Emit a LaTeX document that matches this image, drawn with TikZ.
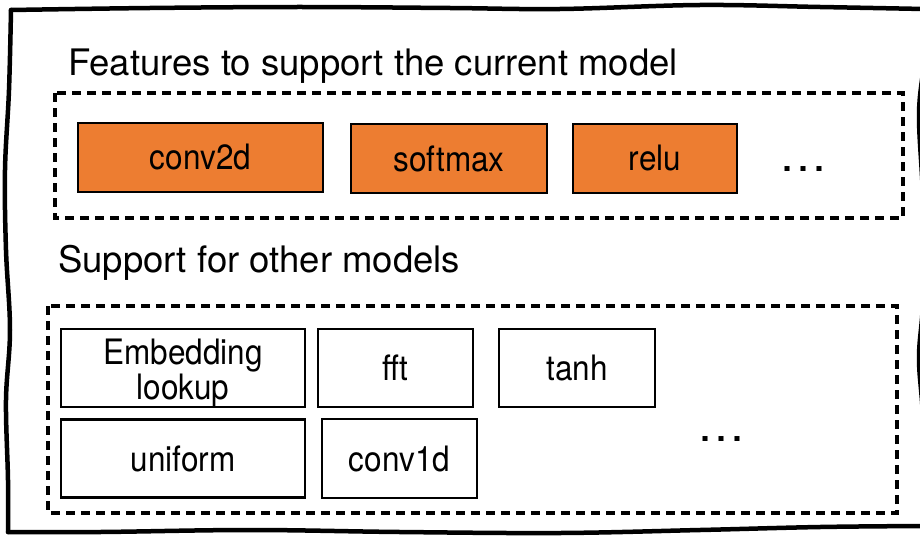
\documentclass[tikz,border=0pt]{standalone}
\usepackage{fontspec}
\setmainfont{TeX Gyre Heros}
\newfontfamily\boxfont[FakeStretch=0.9]{TeX Gyre Heros}
\definecolor{boxorange}{RGB}{237,125,49}
\begin{document}
\begin{tikzpicture}[x=1pt,y=-1pt,
  sketch/.style={line width=4.5pt,line cap=round,line join=round},
  group/.style={draw,line width=3.1pt,dash pattern=on 9pt off 6pt},
  opbox/.style={draw,line width=2.5pt,rectangle,inner sep=0pt,font=\boxfont\fontsize{35}{33}\selectfont,align=center},
  hot/.style={opbox,fill=boxorange},
  cold/.style={opbox,fill=white},
  heading/.style={anchor=base west,inner sep=0pt,font=\fontsize{36.5}{40}\selectfont},
  more/.style={anchor=base,inner sep=0pt,font=\fontsize{48}{50}\selectfont}]
\useasboundingbox (0,0) rectangle (920,535);
\clip (0,0) rectangle (920,535);
\fill[white] (0,0) rectangle (920,535);
% sketchy outer border
\draw[sketch] plot[smooth,tension=0.6] coordinates {(11,10) (150,8) (300,7) (450,8) (560,9) (700,5) (820,7) (924,9)};
\draw[sketch] plot[smooth,tension=0.6] coordinates {(924,9) (924,60) (919,115) (923,200) (923,300) (919,358) (923,420) (924,526)};
\draw[sketch] plot[smooth,tension=0.6] coordinates {(924,526) (820,527) (700,530) (560,533) (400,532) (250,530) (100,532) (8,532)};
\draw[sketch] plot[smooth,tension=0.6] coordinates {(8,532) (8,480) (6,400) (10,330) (6,250) (5,170) (9,90) (11,10)};
% group 1
\node[heading] (t1) at (68,75) {Features to support the current model};
\draw[group] (55,93) rectangle (903,218);
\node[hot,minimum width=245pt,minimum height=69pt] (conv2d) at (200.5,157.5) {conv2d};
\node[hot,minimum width=196pt,minimum height=69pt] (softmax) at (449,158.5) {softmax};
\node[hot,minimum width=164pt,minimum height=69pt] (relu) at (655,158.5) {relu};
\node[more] (dots1) at (803,171) {…};
% group 2
\node[heading] (t2) at (58,272) {Support for other models};
\draw[group] (48,306) rectangle (897,513);
\node[cold,minimum width=244pt,minimum height=78pt,
  label={[name=embtext,inner sep=0pt,font=\boxfont\fontsize{35}{33}\selectfont,align=center,yshift=-5pt]center:Embedding\\lookup}] (emb) at (183,368) {};
\node[cold,minimum width=155pt,minimum height=78pt] (fft) at (395.5,368) {fft};
\node[cold,minimum width=156pt,minimum height=78pt] (tanh) at (577,368) {tanh};
\node[cold,minimum width=244pt,minimum height=78pt] (uniform) at (183,458.5) {uniform};
\node[cold,minimum width=155pt,minimum height=79pt] (conv1d) at (399.5,458.5) {conv1d};
\node[more] (dots2) at (721,441) {…};
\end{tikzpicture}
\end{document}
